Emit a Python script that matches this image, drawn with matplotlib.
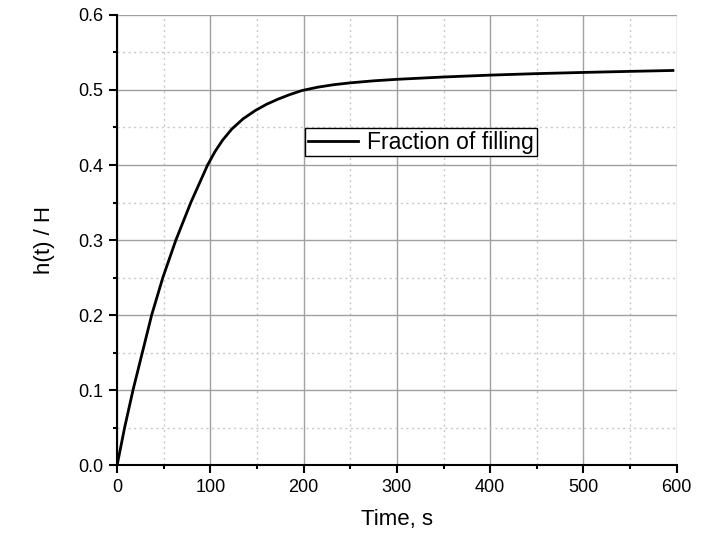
import matplotlib.pyplot as plt
import numpy as np
from matplotlib.ticker import MultipleLocator

plt.rcParams['font.family'] = ['Liberation Sans', 'DejaVu Sans']

time_s = [0, 8, 17, 27, 37, 49, 63, 79, 97, 105, 113, 123, 135, 148, 160, 172, 185,
          198, 215, 232, 250, 275, 300, 350, 400, 450, 500, 550, 596]
fill = [0.0, 0.05, 0.1, 0.15, 0.2, 0.25, 0.3, 0.35, 0.4, 0.418, 0.433, 0.448, 0.4615,
        0.4725, 0.4808, 0.4875, 0.4938, 0.4992, 0.5037, 0.507, 0.5095, 0.5122, 0.5142,
        0.5173, 0.5198, 0.5218, 0.5234, 0.5248, 0.526]

fig = plt.figure(figsize=(7.1, 5.34), dpi=100)
ax = fig.add_axes([0.165, 0.129, 0.788, 0.843])

t = np.array(time_s)
ax.plot(t, fill, color='black', lw=2, label='Fraction of filling', solid_joinstyle='round')

ax.set_xlim(0, 600)
ax.set_ylim(0, 0.6)
ax.xaxis.set_major_locator(MultipleLocator(100))
ax.xaxis.set_minor_locator(MultipleLocator(50))
ax.yaxis.set_major_locator(MultipleLocator(0.1))
ax.yaxis.set_minor_locator(MultipleLocator(0.05))
ax.yaxis.set_major_formatter(plt.FormatStrFormatter('%.1f'))

ax.grid(True, which='major', color='#a0a0a0', lw=1, ls='-')
ax.grid(True, which='minor', color='#c8c8c8', lw=1, ls=(0, (1.5, 2.5)))
ax.set_axisbelow(True)

for s in ['top', 'right']:
    ax.spines[s].set_visible(False)
for s in ['left', 'bottom']:
    ax.spines[s].set_linewidth(1.5)
ax.tick_params(which='major', length=6, width=1.5, labelsize=13, direction='out', pad=4)
ax.tick_params(which='minor', length=3, width=1.5, direction='out')

ax.set_xlabel('Time, s', fontsize=16, labelpad=9)
ax.set_ylabel('h(t) / H', fontsize=16, labelpad=17)

leg = ax.legend(loc='upper left', bbox_to_anchor=(0.336, 0.749), borderaxespad=0,
                fontsize=16.5, fancybox=False, framealpha=1, edgecolor='black',
                handlelength=2.2, borderpad=0.12, handletextpad=0.4)
leg.get_frame().set_linewidth(1)

fig.savefig('out.png')
